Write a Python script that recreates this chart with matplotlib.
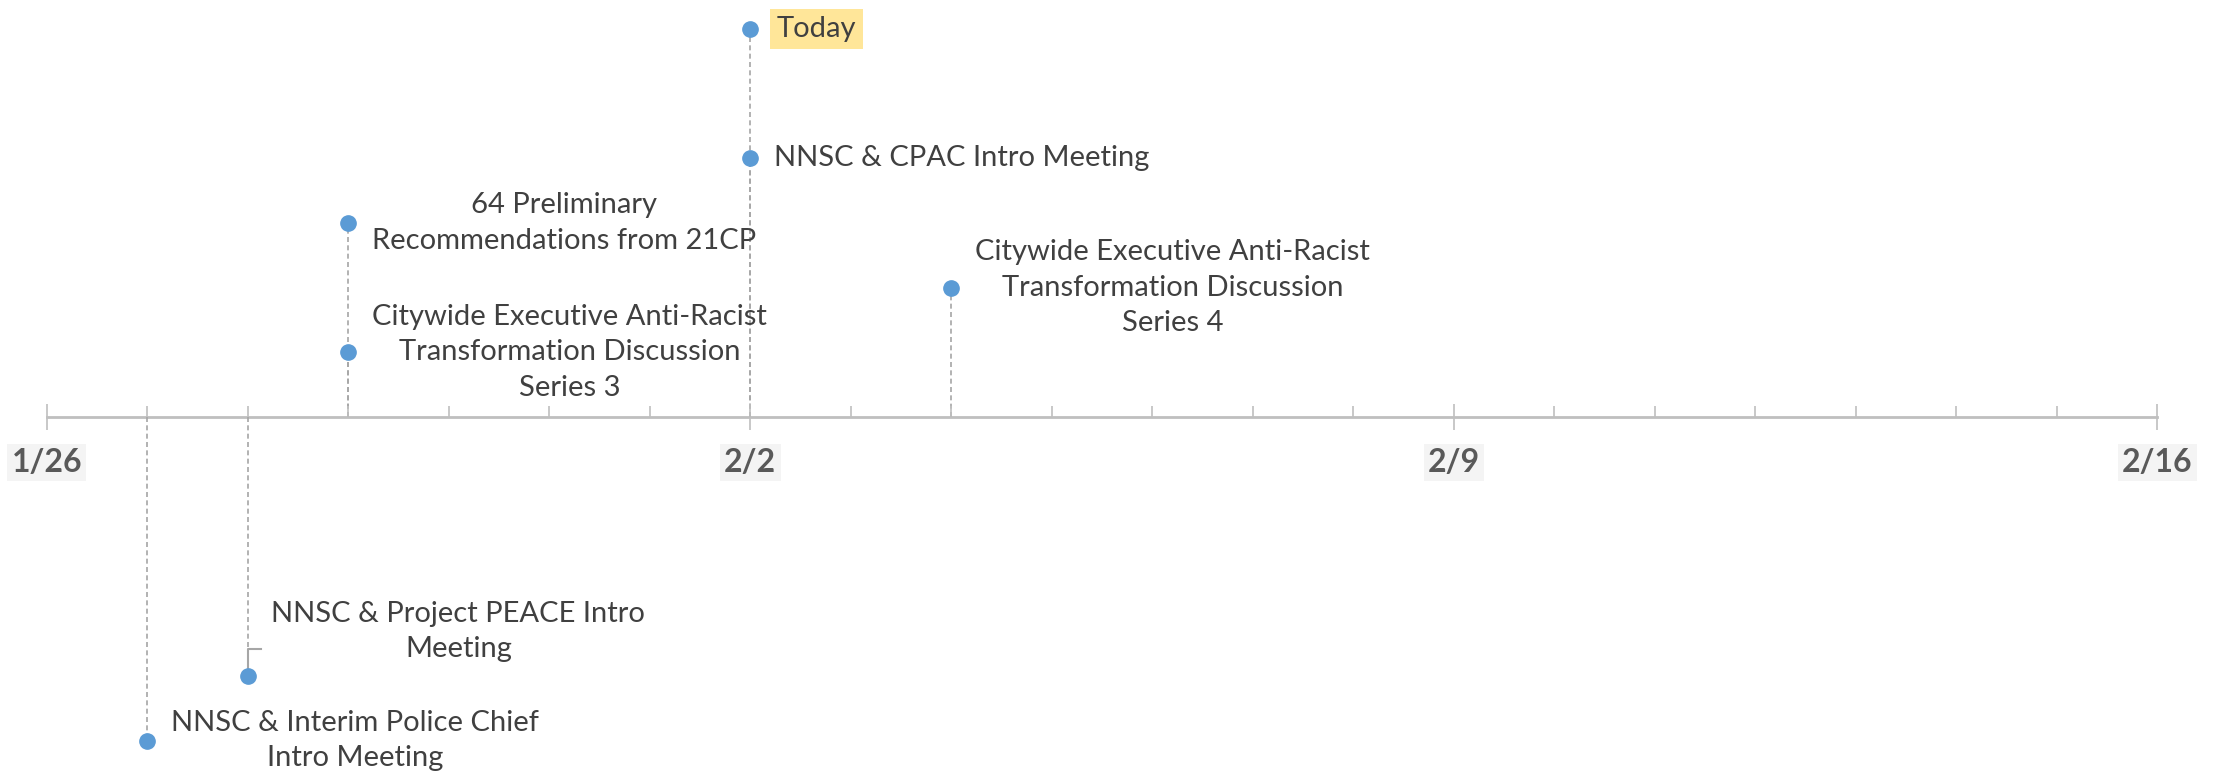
import matplotlib
matplotlib.use("Agg")
import matplotlib.pyplot as plt
import matplotlib.dates as mdates
import pandas as pd
import numpy as np

# ---- data ----
event_labels = [
    "Today",
    "NNSC & CPAC Intro Meeting",
    "64 Preliminary\nRecommendations from 21CP",
    "Citywide Executive Anti-Racist\nTransformation Discussion\nSeries 3",
    "Citywide Executive Anti-Racist\nTransformation Discussion\nSeries 4",
    "NNSC & Project PEACE Intro\nMeeting",
    "NNSC & Interim Police Chief\nIntro Meeting",
]
event_dates = ["2021-02-02", "2021-02-02", "2021-01-29", "2021-01-29",
               "2021-02-04", "2021-01-28", "2021-01-27"]
event_heights = [6, 4, 3, 1, 2, -4, -5]

axis_start = "2021-01-26"
axis_end = "2021-02-16"
major_tick_dates = ["2021-01-26", "2021-02-02", "2021-02-09", "2021-02-16"]
major_tick_labels = ["1/26", "2/2", "2/9", "2/16"]

# ---- style ----
FONT = ["Lato", "DejaVu Sans"]
TEXT_COLOR = "#404040"
MARKER_COLOR = "#5B9BD5"
LINE_COLOR = "#A6A6A6"
AXIS_COLOR = "#BFBFBF"

fig = plt.figure(figsize=(22.24, 7.81), dpi=100)
ax = fig.add_axes([0, 0, 1, 1])

x_events = mdates.date2num(pd.to_datetime(event_dates))
x0 = mdates.date2num(pd.Timestamp(axis_start))
x1 = mdates.date2num(pd.Timestamp(axis_end))

day_px = 100.5
ax.set_xlim(x0 - 46.8 / day_px, x0 + (2224 - 46.8) / day_px)
unit_px = 64.7
ax.set_ylim(-(781 - 417) / unit_px, 417 / unit_px)

# dashed drop lines
for x, h in zip(x_events, event_heights):
    ax.plot([x, x], [0, h], color=LINE_COLOR, lw=1.2, ls=(0, (3, 2)), zorder=1)

# axis spine
for s in ["top", "right", "left"]:
    ax.spines[s].set_visible(False)
ax.spines["bottom"].set_position(("data", 0))
ax.spines["bottom"].set_bounds(x0, x1)
ax.spines["bottom"].set_color(AXIS_COLOR)
ax.spines["bottom"].set_linewidth(2)
ax.spines["bottom"].set_zorder(0.5)
ax.set_yticks([])

major_x = mdates.date2num(pd.to_datetime(major_tick_dates))
ax.set_xticks(major_x)
ax.set_xticklabels(major_tick_labels)
ax.set_xticks(np.arange(x0, x1 + 1), minor=True)
ax.tick_params(axis="x", which="major", direction="inout", length=19, width=1.2,
               color=AXIS_COLOR, pad=13, labelsize=23, labelcolor="#595959")
ax.tick_params(axis="x", which="minor", direction="in", length=8, width=1.2,
               color=AXIS_COLOR)
for lab in ax.get_xticklabels():
    lab.set_fontfamily(FONT)
    lab.set_fontweight("bold")
    lab.set_bbox(dict(facecolor="#F4F4F4", edgecolor="none", pad=3))

# markers
ax.plot(x_events, event_heights, "o", color=MARKER_COLOR, markersize=11,
        zorder=3, clip_on=False)

# labels
for i, (lab, x, h) in enumerate(zip(event_labels, x_events, event_heights)):
    dy = 0
    if lab.startswith("NNSC & Project"):
        dy = 32
    kw = dict(xy=(x, h), xytext=(17, dy), textcoords="offset points",
              ha="left", va="center", multialignment="center",
              fontsize=21, color=TEXT_COLOR, family=FONT, zorder=4,
              linespacing=1.45)
    if lab == "Today":
        kw["bbox"] = dict(facecolor="#FFE699", edgecolor="none", pad=5)
        kw["xytext"] = (19, 0)
    ax.annotate(lab, **kw)

# leader line for offset label
i = event_labels.index("NNSC & Project PEACE Intro\nMeeting")
px, py = ax.transData.transform((x_events[i], event_heights[i]))
pts = np.array([[px, py], [px, py + 27], [px + 13, py + 27]])
pts_data = ax.transData.inverted().transform(pts)
ax.plot(pts_data[:, 0], pts_data[:, 1], color=LINE_COLOR, lw=1.5, zorder=2)

fig.savefig("out.png", dpi=100, facecolor="white")
